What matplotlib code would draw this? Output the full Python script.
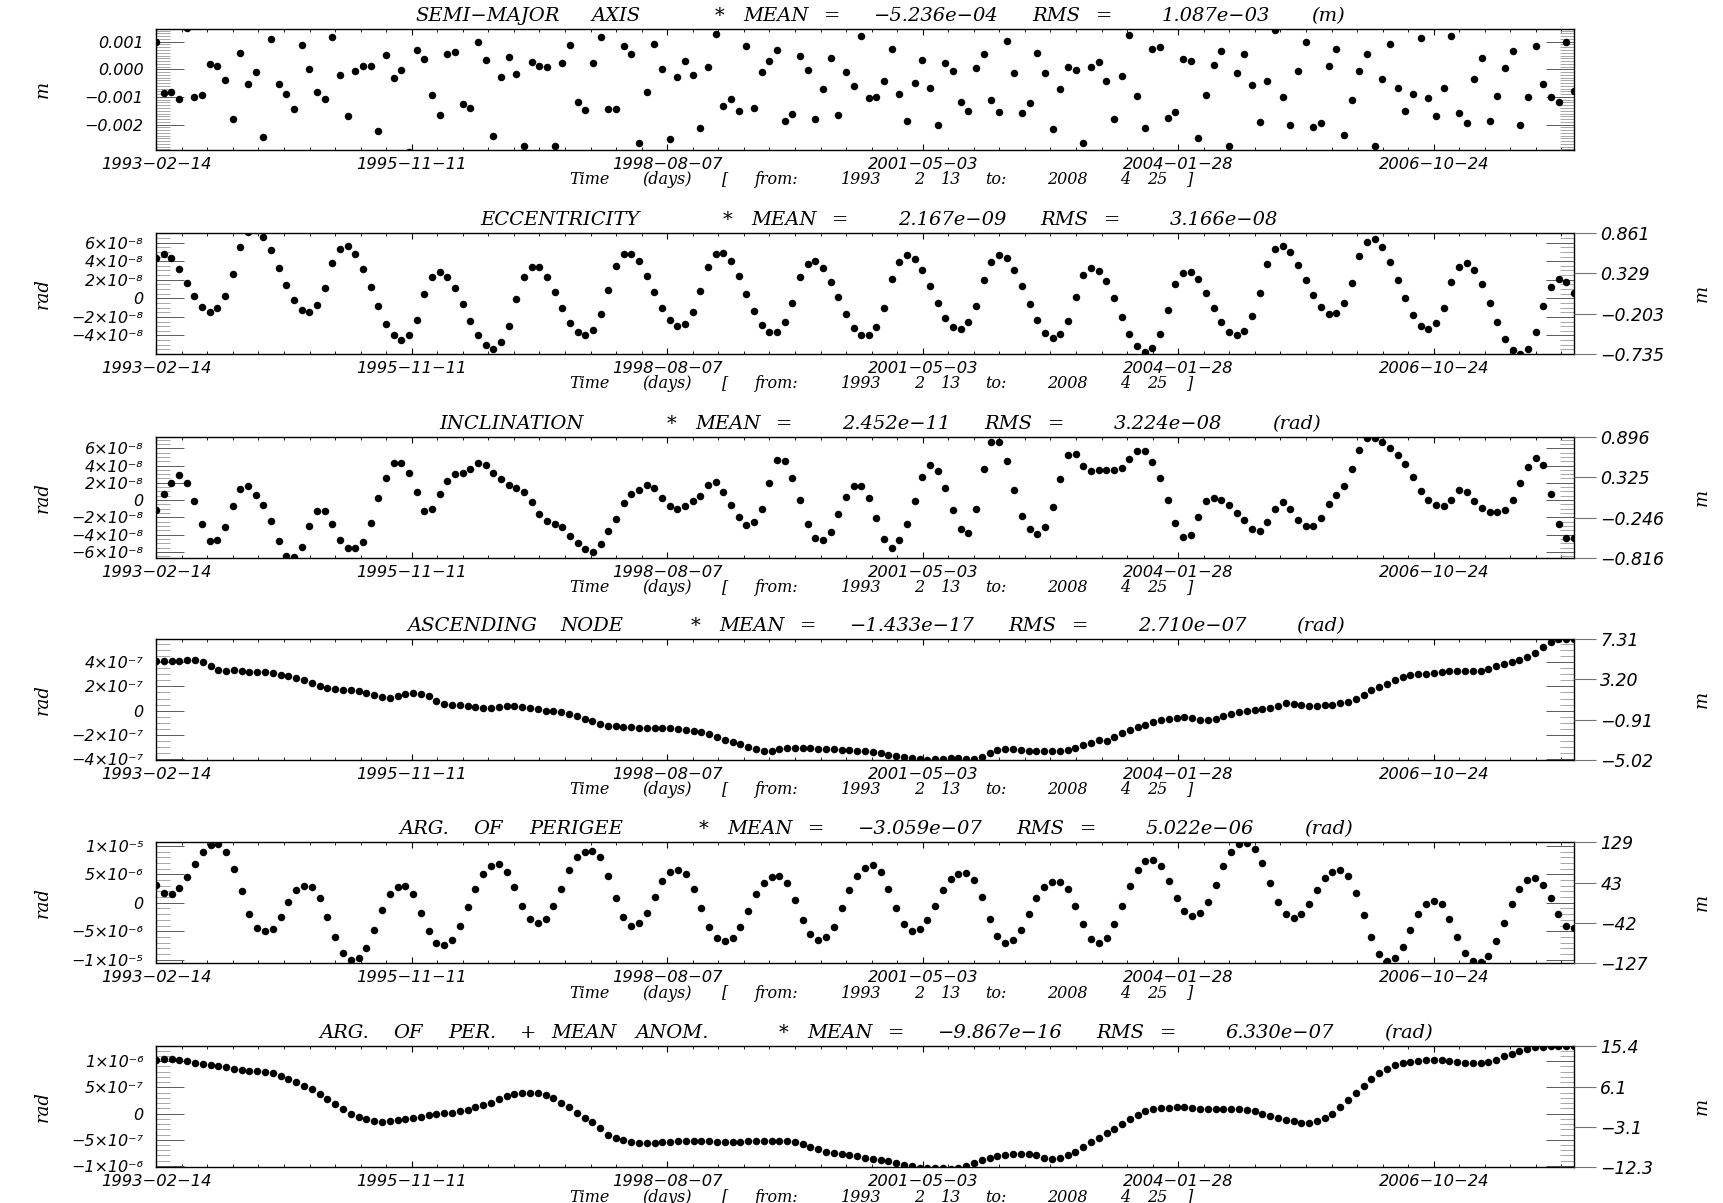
import numpy as np
import pandas as pd
import matplotlib
matplotlib.use('Agg')
import matplotlib.pyplot as plt
from matplotlib.ticker import FixedLocator, FixedFormatter, MultipleLocator, NullLocator

# ---------------- data ----------------
START = '1993-02-13'
END = '2008-04-25'

x_tick_labels = ['1993-02-14', '1995-11-11', '1998-08-07', '2001-05-03', '2004-01-28', '2006-10-24']

# semi-major axis residuals, units 1e-3 m
sma = [1.00, -0.87, -0.81, -1.07, 1.51, -0.99, -0.93, 0.18, 0.12, -0.39,
       -1.78, 0.60, -0.54, -0.08, -2.45, 1.10, -0.52, -0.90, -1.43, 0.88,
       0.01, -0.83, -1.08, 1.16, -0.19, -1.69, -0.07, 0.12, 0.12, -2.23,
       0.52, -0.33, -0.02, -2.98, 0.69, 0.39, -0.93, -1.64, 0.54, 0.64,
       -1.27, -1.39, 0.99, 0.34, -2.42, -0.29, 0.43, -0.16, -2.78, 0.28,
       0.13, 0.07, -2.76, 0.24, 0.89, -1.20, -1.49, 0.23, 1.16, -1.43,
       -1.43, 0.84, 0.57, -2.67, -0.81, 0.90, 0.01, -2.52, -0.29, 0.30,
       -0.19, -2.13, 0.08, 1.27, -1.34, -1.07, -1.51, 0.86, -1.41, -0.08,
       0.30, 0.71, -1.88, -1.60, 0.47, -0.01, -1.80, -0.72, 0.40, -1.66,
       -0.08, -0.60, 1.19, -1.04,
       -1.00, -0.42, 0.72, -0.90, -1.87, -0.49, 0.35, -0.67, -2.02, 0.23,
       -0.05, -1.17, -1.52, 0.04, 0.57, -1.12, -1.54, 1.04, -0.12, -1.57,
       -1.22, 0.60, -0.12, -2.16, -0.73, 0.08, -0.02, -2.65, 0.07, 0.25,
       -0.43, -1.81, -0.23, 1.24, -0.95, -2.13, 0.73, 0.82, -1.77, -1.55,
       0.39, 0.31, -2.48, -0.92, 0.14, 0.65, -2.78, -0.12, 0.54, -0.57,
       -1.92, -0.42, 1.41, -0.99, -2.01, -0.05, 1.00, -2.08, -1.93, 0.11,
       0.73, -2.39, -1.11, -0.06, 0.55, -2.77, -0.36, 0.93, -0.69, -1.51,
       -0.89, 1.12, -1.05, -1.69, -0.69, 1.22, -1.58, -1.94, -0.36, 0.42,
       -1.87, -0.96, 0.06, 0.65, -2.02, -1.01, 0.84, -0.52, -1.01, -1.19,
       0.99, -0.78]

# eccentricity residuals, units 1e-8
ecc = [4.30, 4.77, 4.30, 3.13, 1.67, 0.21, -0.92, -1.51, -1.07, 0.28,
       2.58, 5.54, 7.15, 7.33, 6.57, 5.18, 3.31, 1.41, -0.19, -1.22,
       -1.51, -0.74, 1.09, 3.86, 5.36, 5.61, 4.74, 3.17, 1.23, -0.85,
       -2.75, -3.99, -4.54, -3.99, -2.35, 0.43, 2.29, 2.80, 2.33, 1.12,
       -0.63, -2.49, -3.99, -5.05, -5.42, -4.76, -2.97, -0.12, 2.33, 3.42,
       3.39, 2.33, 0.68, -1.07, -2.64, -3.66, -3.99, -3.37, -1.73, 0.94,
       3.53, 4.74, 4.77, 3.97, 2.40, 0.65, -0.99, -2.31, -2.97, -2.75,
       -1.51, 0.76, 3.42, 4.77, 4.89, 3.97, 2.36, 0.50, -1.33, -2.90,
       -3.66, -3.66, -2.60, -0.52, 2.29, 3.68, 3.97, 3.24, 1.78, 0.10,
       -1.73, -3.19, -3.99,
       -3.99, -3.04, -0.99, 2.04, 3.94, 4.63, 4.26, 3.06, 1.38, -0.49,
       -2.09, -3.12, -3.30, -2.60, -0.81, 1.93, 3.94, 4.63, 4.30, 3.06,
       1.30, -0.63, -2.38, -3.70, -4.28, -3.88, -2.42, 0.17, 2.51, 3.31,
       2.95, 1.82, -0.01, -2.02, -3.85, -5.09, -5.75, -5.34, -3.85, -1.25,
       1.49, 2.73, 2.84, 2.04, 0.57, -0.99, -2.53, -3.59, -3.99, -3.48,
       -1.91, 0.61, 3.68, 5.32, 5.65, 4.96, 3.61, 1.96, 0.36, -0.92,
       -1.65, -1.54, -0.49, 1.60, 4.52, 6.05, 6.38, 5.54, 3.94, 2.00,
       -0.01, -1.84, -2.97, -3.30, -2.68, -0.99, 1.74, 3.42, 3.79, 3.09,
       1.56, -0.45, -2.57, -4.36, -5.60, -5.96, -5.42, -3.66, -0.81, 1.27,
       2.04, 1.71, 0.61]

# inclination residuals, units 1e-8 rad
inc = [-1.19, 0.65, 1.99, 2.87, 2.03, -0.11, -2.79, -4.74, -4.67, -3.10,
       -0.73, 1.30, 1.68, 0.57, -0.57, -2.41, -4.74, -6.46, -6.62, -5.39,
       -2.98, -1.26, -1.26, -2.75, -4.67, -5.54, -5.54, -4.86, -2.64, 0.23,
       2.56, 4.28, 4.32, 3.14, 0.88, -1.22, -1.07, 0.73, 2.26, 2.98,
       3.17, 3.59, 4.28, 4.02, 3.14, 2.41, 1.80, 1.45, 0.99, -0.27,
       -1.64, -2.41, -2.79, -3.17, -4.13, -5.01, -5.70, -6.04, -5.09, -3.52,
       -2.14, -0.38, 0.73, 1.11, 1.72, 1.45, 0.23, -0.69, -1.07, -0.69,
       -0.15, 0.50, 1.76, 2.07, 0.96, -0.57, -1.95, -2.83, -2.56, -1.07,
       1.95, 4.63, 4.51, 2.52, -0.04, -2.79, -4.44, -4.67, -3.67, -1.57,
       0.38, 1.64, 1.64, 0.23,
       -2.10, -4.47, -5.54, -4.63, -2.72, -0.11, 2.72, 4.05, 3.33, 1.38,
       -1.15, -3.37, -3.75, -1.07, 3.59, 6.77, 6.77, 4.55, 1.22, -1.84,
       -3.37, -3.90, -3.14, -0.76, 2.45, 5.16, 5.32, 3.90, 3.37, 3.52,
       3.44, 3.44, 3.75, 4.70, 5.66, 5.66, 4.44, 2.52, 0.00, -2.60,
       -4.32, -4.02, -1.91, -0.15, 0.23, 0.00, -0.61, -1.53, -2.33, -3.29,
       -3.52, -2.49, -1.03, -0.27, -0.99, -2.33, -3.02, -3.02, -2.10, -0.42,
       0.54, 1.68, 3.59, 5.81, 7.23, 7.23, 6.77, 6.00, 5.20, 4.13,
       2.68, 1.07, -0.04, -0.57, -0.69, -0.04, 1.15, 0.92, -0.15, -0.92,
       -1.34, -1.41, -1.11, 0.04, 2.03, 3.79, 4.86, 4.09, 0.76, -2.75,
       -4.44, -4.44]

# ascending node residuals, units 1e-7 rad
node = [4.07, 4.07, 4.07, 4.09, 4.17, 4.17, 4.04, 3.66, 3.36, 3.31,
        3.33, 3.28, 3.22, 3.20, 3.17, 3.09, 2.98, 2.85, 2.71, 2.52,
        2.25, 2.06, 1.90, 1.79, 1.73, 1.68, 1.60, 1.46, 1.27, 1.11,
        1.06, 1.17, 1.38, 1.49, 1.41, 1.17, 0.81, 0.57, 0.49, 0.43,
        0.38, 0.27, 0.19, 0.22, 0.30, 0.35, 0.35, 0.30, 0.24, 0.14,
        0.00, -0.05, -0.14, -0.27, -0.46, -0.68, -0.89, -1.11,
        -1.25, -1.30, -1.35, -1.38, -1.40, -1.42, -1.43, -1.45, -1.47, -1.50,
        -1.58, -1.67, -1.77, -1.95, -2.14, -2.42, -2.60, -2.79, -2.98, -3.16,
        -3.35, -3.35, -3.16, -3.07, -3.07, -3.07, -3.07, -3.16, -3.16, -3.16,
        -3.26, -3.26, -3.35, -3.35, -3.44, -3.53, -3.63, -3.72, -3.81, -3.91,
        -4.00, -4.09, -4.00, -4.00, -3.91, -3.91, -4.00, -4.00, -3.81, -3.53,
        -3.26, -3.16, -3.16, -3.26, -3.35, -3.35, -3.35, -3.35, -3.35, -3.26,
        -3.07, -2.88, -2.70, -2.42,
        -2.48, -2.18, -1.87, -1.63, -1.35, -1.16, -0.96, -0.80, -0.66, -0.58,
        -0.52, -0.60, -0.77, -0.80, -0.66, -0.44, -0.24, -0.08, 0.01, 0.03,
        0.12, 0.23, 0.42, 0.64, 0.56, 0.45, 0.42, 0.42, 0.45, 0.50,
        0.59, 0.73, 0.98, 1.31, 1.67, 1.97, 2.22, 2.50, 2.77, 2.94,
        3.00, 3.05, 3.13, 3.22, 3.27, 3.25, 3.25, 3.25, 3.27, 3.41,
        3.66, 3.86, 4.02, 4.19, 4.41, 4.77, 5.24, 5.66, 5.90, 5.96,
        5.96]

# argument of perigee residuals, units 1e-6 rad
argp = [3.2, 1.8, 1.5, 2.6, 4.6, 6.9, 8.9, 10.2,
        10.3, 9.0, 6.0, 2.0, -2.0, -4.5,
        -5.0, -4.6, -2.5, 0.2, 2.2, 3.0,
        2.8, 0.8, -2.5, -6.0, -8.8, -10.0,
        -9.8, -8.0, -4.8, -1.2, 1.5, 2.8, 3.0,
        1.5, -1.8, -5.0, -7.0, -7.5,
        -6.5, -4.0, -0.8, 2.5, 5.0, 6.5, 6.8,
        5.5, 2.8, -0.5, -2.8, -3.5,
        -2.8, -0.5, 2.5, 5.8, 8.0, 9.0, 9.2,
        8.0, 4.8, 0.8, -2.5, -4.0,
        -3.5, -1.8, 1.0, 3.8, 5.5, 5.8,
        5.0, 2.5, -1.0, -4.2, -6.2, -6.8,
        -6.2, -4.2, -1.5, 1.5, 3.5, 4.6, 4.8,
        3.5, 0.5, -3.0, -5.5, -6.5,
        -6.0, -4.2, -1.0, 2.2, 4.8, 6.2, 6.6,
        5.5, 2.5, -1.0, -3.8, -5.0,
        -4.6, -3.0, -0.5, 2.2, 4.2, 5.0, 5.2,
        4.0, 1.0, -2.8, -5.8, -7.0,
        -6.6, -4.8, -2.0, 0.8, 2.8, 3.6, 3.7,
        2.5, -0.5, -3.8, -6.3, -7.0,
        -6.2, -3.8, -0.5, 3.0, 5.8, 7.3, 7.6,
        6.5, 3.8, 0.8, -1.5, -2.3,
        -1.8, 0.2, 3.2, 6.5, 9.0, 10.3, 10.6,
        9.5, 7.0, 3.5, 0.2, -2.0, -2.6,
        -2.0, -0.2, 2.2, 4.3, 5.5, 5.8,
        4.8, 1.8, -2.2, -6.0, -9.0, -10.2,
        -9.8, -7.8, -4.8, -2.0, -0.2, 0.4,
        -0.3, -2.8, -6.0, -8.8, -10.2, -10.4,
        -9.3, -6.8, -3.5, -0.3, 2.5, 4.0,
        4.3, 3.2, 0.8, -2.0, -4.0, -4.5]

# argument of perigee + mean anomaly residuals, units 1e-7 rad
argpm = [10.3, 10.4, 10.4, 10.3, 10.0, 9.7, 9.5, 9.3, 9.0, 8.8,
         8.6, 8.4, 8.2, 8.1, 8.0, 7.8, 7.2, 6.6, 6.0, 5.3,
         4.6, 3.7, 2.8, 1.8, 0.8, 0.0, -0.6, -1.1, -1.4, -1.6,
         -1.5, -1.3, -1.0, -0.8, -0.6, -0.3, -0.1, 0.1, 0.2, 0.4,
         0.7, 1.2, 1.6, 2.1, 2.8, 3.3, 3.7, 3.9, 4.0, 3.9,
         3.5, 2.9, 2.0, 1.2, 0.2, -0.8, -1.7, -2.7,
         -4.0, -4.6, -5.1, -5.5, -5.7, -5.7, -5.7, -5.5, -5.5, -5.3,
         -5.3, -5.3, -5.3, -5.3, -5.5, -5.5, -5.5, -5.5, -5.3, -5.3,
         -5.3, -5.3, -5.3, -5.3, -5.5, -5.9, -6.4, -6.8, -7.3, -7.5,
         -7.7, -7.9, -8.1, -8.4, -8.6, -8.8, -9.0, -9.5, -9.9, -10.1,
         -10.3, -10.3, -10.3, -10.3, -10.5, -10.3, -10.1, -9.5, -8.8, -8.4,
         -8.1, -7.9, -7.7, -7.7, -7.7, -7.9, -8.4, -8.6, -8.4, -7.9,
         -7.3, -6.4, -5.5, -4.6, -3.7, -2.9, -2.0, -1.1, -0.2, 0.4,
         0.9, 1.1, 1.1, 1.3, 1.3, 1.1, 0.9, 0.9, 0.9, 0.9,
         0.9, 0.9, 0.7, 0.4, 0.0, -0.4, -0.9, -1.3, -1.5, -1.8,
         -1.8, -1.5, -0.9, 0.0, 1.3, 2.6, 4.0, 5.3, 6.6, 7.7,
         8.6, 9.2, 9.7, 9.9, 10.1, 10.3, 10.3, 10.3, 10.1, 9.9,
         9.7, 9.7, 9.7, 9.9, 10.3, 11.0, 11.4, 11.9, 12.3, 12.7,
         12.8, 12.9, 12.9, 12.9, 12.9]

titles = [
    'SEMI-MAJOR AXIS    * MEAN = -5.236e-04 RMS =  1.087e-03 (m)',
    'ECCENTRICITY    * MEAN =  2.167e-09 RMS =  3.166e-08',
    'INCLINATION    * MEAN =  2.452e-11 RMS =  3.224e-08 (rad)',
    'ASCENDING NODE    * MEAN = -1.433e-17 RMS =  2.710e-07 (rad)',
    'ARG. OF PERIGEE    * MEAN = -3.059e-07 RMS =  5.022e-06 (rad)',
    'ARG. OF PER. + MEAN ANOM.    * MEAN = -9.867e-16 RMS =  6.330e-07 (rad)',
]
xlabel_text = 'Time (days) [ from:  1993  2 13 to:  2008  4 25 ]'
left_units = ['m', 'rad', 'rad', 'rad', 'rad', 'rad']

series = [sma, ecc, inc, node, argp, argpm]
scales = [1e-3, 1e-8, 1e-8, 1e-7, 1e-6, 1e-7]
ylims = [(-2.92e-3, 1.46e-3), (-6.0e-8, 7.04e-8), (-6.7e-8, 7.3e-8),
         (-4.08e-7, 5.92e-7), (-1.06e-5, 1.07e-5), (-1.02e-6, 1.29e-6)]

left_tick_vals = [
    [1e-3, 0.0, -1e-3, -2e-3],
    [6e-8, 4e-8, 2e-8, 0, -2e-8, -4e-8],
    [6e-8, 4e-8, 2e-8, 0, -2e-8, -4e-8, -6e-8],
    [4e-7, 2e-7, 0, -2e-7, -4e-7],
    [1e-5, 5e-6, 0, -5e-6, -1e-5],
    [1e-6, 5e-7, 0, -5e-7, -1e-6],
]
left_tick_labels = [
    ['0.001', '0.000', '\u22120.001', '\u22120.002'],
    ['6\u00d710\u207b\u2078', '4\u00d710\u207b\u2078', '2\u00d710\u207b\u2078', '0',
     '\u22122\u00d710\u207b\u2078', '\u22124\u00d710\u207b\u2078'],
    ['6\u00d710\u207b\u2078', '4\u00d710\u207b\u2078', '2\u00d710\u207b\u2078', '0',
     '\u22122\u00d710\u207b\u2078', '\u22124\u00d710\u207b\u2078', '\u22126\u00d710\u207b\u2078'],
    ['4\u00d710\u207b\u2077', '2\u00d710\u207b\u2077', '0',
     '\u22122\u00d710\u207b\u2077', '\u22124\u00d710\u207b\u2077'],
    ['1\u00d710\u207b\u2075', '5\u00d710\u207b\u2076', '0',
     '\u22125\u00d710\u207b\u2076', '\u22121\u00d710\u207b\u2075'],
    ['1\u00d710\u207b\u2076', '5\u00d710\u207b\u2077', '0',
     '\u22125\u00d710\u207b\u2077', '\u22121\u00d710\u207b\u2076'],
]
minor_steps = [1e-4, 0.5e-8, 0.5e-8, 0.5e-7, 1e-6, 1e-7]

right_tick_vals = [None,
                   [0.861, 0.329, -0.203, -0.735],
                   [0.896, 0.325, -0.246, -0.816],
                   [7.31, 3.20, -0.91, -5.02],
                   [129, 43, -42, -127],
                   [15.4, 6.1, -3.1, -12.3]]
right_tick_labels = [None,
                     ['0.861', '0.329', '\u22120.203', '\u22120.735'],
                     ['0.896', '0.325', '\u22120.246', '\u22120.816'],
                     ['7.31', '3.20', '\u22120.91', '\u22125.02'],
                     ['129', '43', '\u221242', '\u2212127'],
                     ['15.4', '6.1', '\u22123.1', '\u221212.3']]

# ---------------- layout ----------------
W, H = 1724, 1203
fig = plt.figure(figsize=(W / 100, H / 100), dpi=100)
AX_L, AX_R = 156, 1574
AX_H = 121
tops = [29, 233, 437, 639, 842, 1046]
TEXT_CX = 880          # centre (px) of titles / time labels
TITLE_ADV = 16.0       # px per character, imitating the wide plotter font
XLAB_ADV = 12.9

t0 = pd.Timestamp(START)
span = (pd.Timestamp(END) - t0).days
xt_pos = [(pd.Timestamp(s) - t0).days for s in x_tick_labels]
xt_lab = [s.replace('-', '\u2212') for s in x_tick_labels]

SERIF = dict(family='DejaVu Serif', style='italic')


def spaced_text(s, xc, yc, adv, **kw):
    """Draw string s word by word, spread like a fixed-advance plotter font."""
    n = len(s)
    x0 = xc - n * adv / 2.0
    i = 0
    while i < n:
        if s[i] == ' ':
            i += 1
            continue
        j = i
        while j < n and s[j] != ' ':
            j += 1
        word = s[i:j].replace('-', '\u2212')
        cx = x0 + (i + (j - i) / 2.0) * adv
        fig.text(cx / W, 1 - yc / H, word, ha='center', va='center', **kw)
        i = j


for k in range(6):
    top = tops[k]
    ax = fig.add_axes([AX_L / W, 1 - (top + AX_H) / H, (AX_R - AX_L) / W, AX_H / H])
    vals = np.array(series[k]) * scales[k]
    dates = pd.date_range(START, END, periods=len(vals))
    xd = (dates - t0).total_seconds() / 86400.0

    if right_tick_vals[k] is not None:
        ax2 = ax.twinx()
        rv = right_tick_vals[k]
        ax2.set_ylim(min(rv), max(rv))
        ax2.yaxis.set_major_locator(FixedLocator(rv))
        ax2.yaxis.set_major_formatter(FixedFormatter(right_tick_labels[k]))
        ax2.yaxis.set_minor_locator(NullLocator())
        ax2.tick_params(axis='y', direction='out', length=16, width=0.8,
                        color='0.45', pad=3, labelsize=12.5)
        for lb in ax2.get_yticklabels():
            lb.set_fontstyle('italic')
        for sp in ax2.spines.values():
            sp.set_visible(False)
        ax2.text(1.09, 0.5, 'm', transform=ax.transAxes, rotation=90,
                 ha='center', va='center', fontsize=13, **SERIF)

    ax.plot(xd, vals, 'o', color='black', ms=5.4, mew=0, clip_on=True, zorder=3)
    ax.set_xlim(0, span)
    ax.set_ylim(*ylims[k])

    ax.xaxis.set_major_locator(FixedLocator(xt_pos))
    ax.xaxis.set_major_formatter(FixedFormatter(xt_lab))
    ax.xaxis.set_minor_locator(MultipleLocator(100, offset=1))
    ax.yaxis.set_major_locator(FixedLocator(left_tick_vals[k]))
    ax.yaxis.set_major_formatter(FixedFormatter(left_tick_labels[k]))
    ax.yaxis.set_minor_locator(MultipleLocator(minor_steps[k]))

    ax.tick_params(axis='x', which='major', direction='in', length=4, width=0.8,
                   top=True, bottom=True, pad=5, labelsize=11.8)
    ax.tick_params(axis='x', which='minor', direction='in', length=2.5, width=0.6,
                   top=True, bottom=True)
    ax.tick_params(axis='y', which='major', direction='in', length=20, width=0.7,
                   color='0.35', left=True, right=True, pad=9, labelsize=11.5)
    ax.tick_params(axis='y', which='minor', direction='in', length=10, width=0.6,
                   color='0.6', left=True, right=True)
    for lb in ax.get_xticklabels() + ax.get_yticklabels():
        lb.set_fontstyle('italic')
    for sp in ax.spines.values():
        sp.set_linewidth(1.0)

    spaced_text(titles[k], TEXT_CX, top - 13, TITLE_ADV, fontsize=14, **SERIF)
    spaced_text(xlabel_text, TEXT_CX, top + AX_H + 30, XLAB_ADV, fontsize=11.5, **SERIF)
    ax.text(-0.08, 0.5, left_units[k], transform=ax.transAxes, rotation=90,
            ha='center', va='center', fontsize=13, **SERIF)

fig.savefig('out.png', dpi=100)
